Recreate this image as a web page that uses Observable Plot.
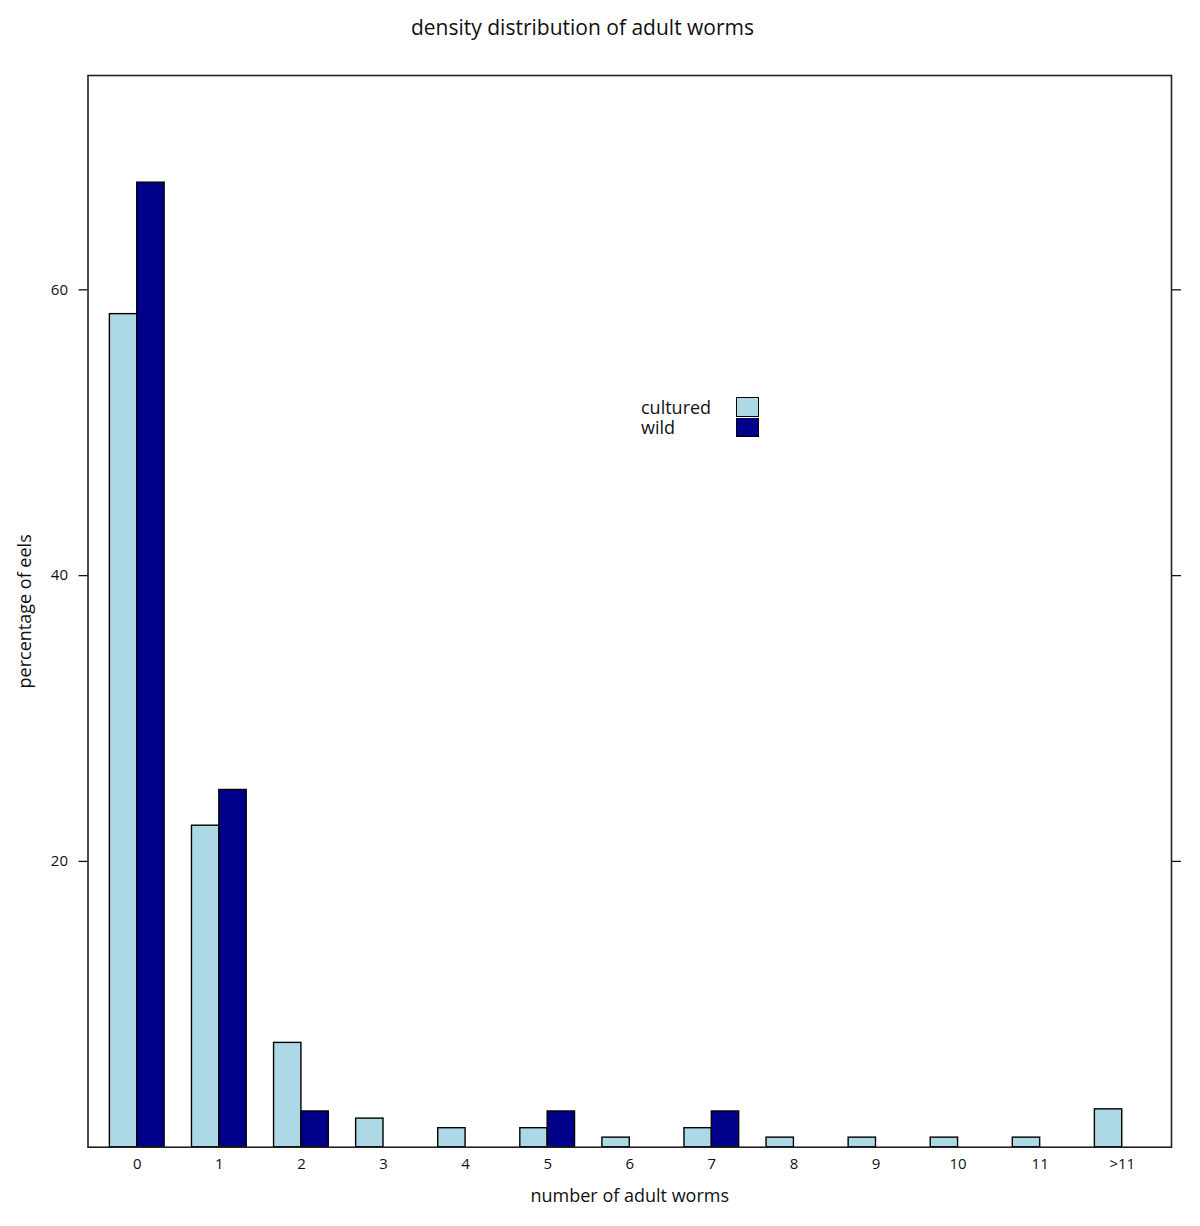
<!DOCTYPE html>
<html>
<head>
<meta charset="utf-8">
<script src="https://cdn.jsdelivr.net/npm/d3@7"></script>
<script src="https://cdn.jsdelivr.net/npm/@observablehq/plot@0.6"></script>
<style>
  html, body { margin: 0; padding: 0; background: #fff; }
  #wrap { position: relative; width: 1200px; height: 1226px; font-family: "Open Sans", sans-serif; color: #111; }
  #title { height: 56px; width: 1165px; text-align: center; font-size: 21px; line-height: 1; padding-top: 17px; box-sizing: border-box; }
  .leg-text { position: absolute; font-size: 18px; line-height: 18px; height: 18px; }
  .leg-sw { position: absolute; width: 23px; height: 20px; box-sizing: border-box; border: 1.5px solid #000; }
</style>
</head>
<body>
<div id="wrap">
  <div id="title">density distribution of adult worms</div>
  <div id="chart"></div>
</div>
<script>
// ---- data ----
const categories = ["0", "1", "2", "3", "4", "5", "6", "7", "8", "9", "10", "11", ">11"];
const cultured = [58.3, 22.5, 7.3, 2.0, 1.33, 1.33, 0.67, 1.33, 0.67, 0.67, 0.67, 0.67, 2.65];
const wild = [67.5, 25.0, 2.5, 0, 0, 2.5, 0, 2.5, 0, 0, 0, 0, 0];
const seriesNames = ["cultured", "wild"];
const seriesColors = ["#add8e6", "#00008b"];
const yTicks = [20, 40, 60];
const xLabel = "number of adult worms";
const yLabel = "percentage of eels";

const seriesValues = [cultured, wild];
const rows = [];
categories.forEach((c, i) => {
  seriesNames.forEach((s, k) => {
    const v = seriesValues[k][i];
    if (v > 0) rows.push({ i, cat: c, series: s, k, value: v });
  });
});

const W = 1200, H = 1170;
const chart = Plot.plot({
  width: W,
  height: H,
  marginLeft: 87.5,
  marginRight: 29,
  marginTop: 19,
  marginBottom: 79.3,
  style: { fontFamily: "'Open Sans', sans-serif", fontSize: "15px", color: "#111", background: "#fff" },
  x: { domain: [-0.6, 12.6] },
  y: { domain: [0, 75] },
  color: { domain: seriesNames, range: seriesColors },
  marks: [
    Plot.rect(rows, {
      x1: d => d.i - 1 / 3 + d.k / 3,
      x2: d => d.i + d.k / 3,
      y1: 0,
      y2: "value",
      fill: "series",
      stroke: "#000",
      strokeWidth: 1.4
    }),
    Plot.frame({ stroke: "#222", strokeWidth: 1.6 }),
    Plot.axisX({
      ticks: d3.range(categories.length),
      tickFormat: i => categories[i],
      tickSize: 0,
      tickPadding: 11,
      label: null
    }),
    Plot.axisY({ anchor: "left", ticks: yTicks, tickSize: 9, tickPadding: 11, label: null, strokeWidth: 1.3 }),
    Plot.axisY({ anchor: "right", ticks: yTicks, tickSize: 9, tickFormat: () => "", label: null, strokeWidth: 1.3 }),
    Plot.text([xLabel], { frameAnchor: "bottom", dy: 55, fontSize: 18 }),
    Plot.text([yLabel], { frameAnchor: "left", textAnchor: "middle", rotate: -90, dx: -63, fontSize: 18 })
  ]
});
document.getElementById("chart").appendChild(chart);

// legend (inside the panel, as in the reference)
const wrap = document.getElementById("wrap");
seriesNames.forEach((s, k) => {
  const t = document.createElement("div");
  t.className = "leg-text";
  t.textContent = s;
  t.style.left = "641px";
  t.style.top = (398 + k * 20) + "px";
  wrap.appendChild(t);
  const sw = document.createElement("div");
  sw.className = "leg-sw";
  sw.style.left = "736px";
  sw.style.top = (397 + k * 20) + "px";
  sw.style.background = seriesColors[k];
  if (k > 0) { sw.style.borderTop = "none"; sw.style.height = "19.5px"; sw.style.top = (397 + k * 20 + 0.5) + "px"; }
  wrap.appendChild(sw);
});
</script>
</body>
</html>
